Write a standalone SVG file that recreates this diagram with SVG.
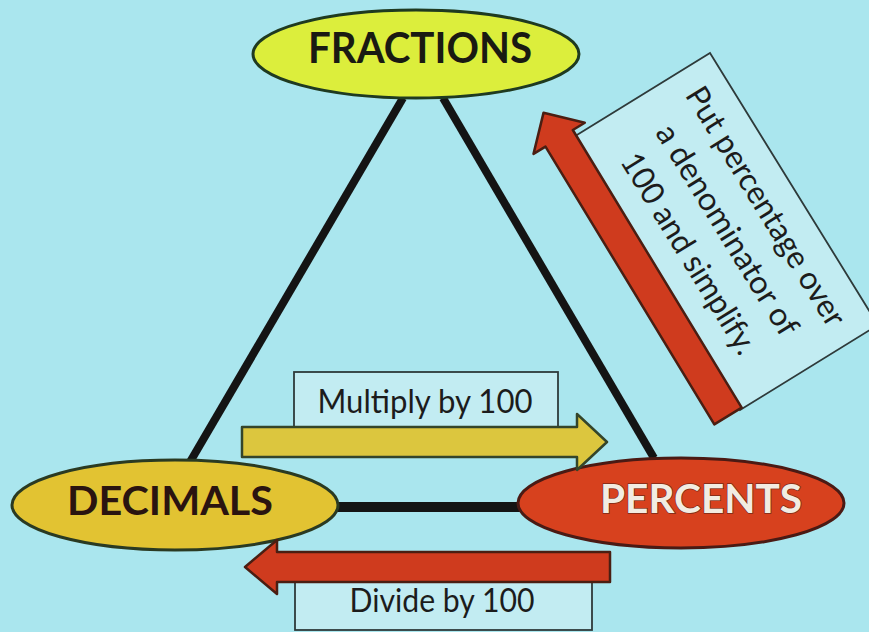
<svg xmlns="http://www.w3.org/2000/svg" width="869" height="632" viewBox="0 0 869 632">
<style>
.bg{fill:#aae6ee}
.leg{stroke:#141414;stroke-width:8;stroke-linecap:butt}
.node-title{font-family:Lato,"Liberation Sans",sans-serif;font-weight:bold;text-anchor:middle}
.lbl{font-family:Lato,"Liberation Sans",sans-serif;font-size:32px;fill:#1c1c1c;text-anchor:middle}
.box{fill:#c2ecf2;stroke:#2e3a3a;stroke-width:1.8}
.redarrow{fill:#cf3b1e;stroke:#4a1e12;stroke-width:2.5;stroke-linejoin:round}
.yelarrow{fill:#dcc63e;stroke:#34452a;stroke-width:2.5;stroke-linejoin:round}
</style>
<rect class="bg" x="0" y="0" width="869" height="632"/>

<g id="connectors">
  <line class="leg" x1="403" y1="98" x2="190" y2="462"/>
  <line class="leg" x1="443" y1="98" x2="654" y2="458"/>
  <line class="leg" x1="330" y1="507" x2="525" y2="507" style="stroke-width:10"/>
</g>

<g id="node-fractions">
  <ellipse cx="416" cy="54" rx="163" ry="44" fill="#dcee3c" stroke="#1f3a20" stroke-width="3"/>
  <text class="node-title" x="420" y="63" font-size="42" fill="#1a1a12" textLength="224" lengthAdjust="spacingAndGlyphs">FRACTIONS</text>
</g>

<g id="node-decimals">
  <ellipse cx="175" cy="505" rx="163" ry="45" fill="#e2c332" stroke="#2a3a22" stroke-width="3"/>
  <text class="node-title" x="170" y="515" font-size="40" fill="#2a1410" textLength="206" lengthAdjust="spacingAndGlyphs">DECIMALS</text>
</g>

<g id="node-percents">
  <ellipse cx="681" cy="503" rx="163" ry="45" fill="#d7411e" stroke="#4a1a14" stroke-width="3"/>
  <text class="node-title" x="701" y="513" font-size="40" fill="#f2ece2" stroke="#7a2a18" stroke-width="1.5" paint-order="stroke" textLength="202" lengthAdjust="spacingAndGlyphs">PERCENTS</text>
</g>

<g id="label-multiply">
  <rect class="box" x="294" y="372" width="264" height="62"/>
  <text class="lbl" x="425" y="413" textLength="215" lengthAdjust="spacingAndGlyphs">Multiply by 100</text>
</g>

<g id="label-divide">
  <rect class="box" x="295" y="575" width="297" height="55"/>
  <text class="lbl" x="442" y="612" textLength="185" lengthAdjust="spacingAndGlyphs">Divide by 100</text>
</g>

<g id="label-percent-to-fraction">
  <polygon class="box" points="572,138 710,53 878,325 740,410"/>
  <g transform="translate(725,231.5) rotate(58.4)">
    <text class="lbl" x="0" y="-37" textLength="275" lengthAdjust="spacingAndGlyphs">Put percentage over</text>
    <text class="lbl" x="0" y="8" textLength="242" lengthAdjust="spacingAndGlyphs">a denominator of</text>
    <text class="lbl" x="0" y="53" textLength="230" lengthAdjust="spacingAndGlyphs">100 and simplify.</text>
  </g>
</g>

<g id="arrows">
  <path class="yelarrow" d="M242,427 L577,427 L577,414 L607,442 L577,470 L577,457 L242,457 Z"/>
  <path class="redarrow" d="M610,552 L277,552 L277,540 L245,567 L277,594 L277,582 L610,582 Z"/>
  <path class="redarrow" transform="translate(728,416) rotate(-121.3)" d="M0,-16 L325,-16 L325,-30 L355,0 L325,30 L325,16 L0,16 Z"/>
</g>
</svg>
